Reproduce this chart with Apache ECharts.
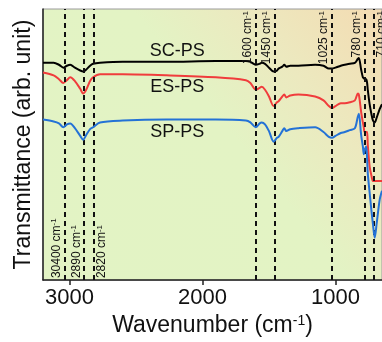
<!DOCTYPE html>
<html>
<head>
<meta charset="utf-8">
<script src="https://cdn.jsdelivr.net/npm/echarts@6/dist/echarts.min.js"></script>
<style>
  html, body { margin: 0; padding: 0; background: #fff; }
  #main { width: 382px; height: 342px; }
</style>
</head>
<body>
<div id="main"></div>
<script>
// wavenumbers (cm-1) shared by the three spectra
const waves = [3200, 3120, 3080, 3047, 3020, 2995, 2960, 2920, 2898, 2875, 2846, 2823, 2771, 2600, 2271, 1900,
  1674, 1640, 1600, 1570, 1555, 1530, 1500, 1465, 1440, 1428, 1400, 1385, 1370, 1340, 1279, 1153, 1090, 1050,
  1026, 1000, 960, 930, 892, 854, 832, 824, 807, 794, 787, 781, 769, 762, 757, 743, 730, 718, 705, 690, 667, 650];

// transmittance, arbitrary units (offset stacked)
const scPS = [226, 226, 224, 221, 223, 224, 221, 218, 217, 219, 223, 225, 226, 227, 227, 228,
  228, 227, 224, 225, 226, 225, 221, 217, 218, 220, 222, 224, 222, 223, 223, 224, 223, 220,
  220, 221, 223, 224, 225, 226, 230, 231, 219, 211, 210, 209, 209, 205, 198, 183, 173, 166, 164, 169, 178, 183];
const esPS = [216, 213, 209, 205, 208, 211, 207, 199, 194, 198, 207, 211, 214, 214, 213, 211,
  208, 205, 198, 200, 201, 198, 191, 181, 185, 186, 191, 193, 190, 192, 193, 191, 187, 181,
  179, 181, 184, 184, 185, 187, 194, 193, 175, 164, 159, 154, 154, 154, 141, 118, 109, 103, 103, 103, 103, 103];
const spPS = [167, 165, 163, 159, 162, 163, 158, 150, 146, 151, 157, 159, 164, 166, 167, 167,
  166, 164, 159, 163, 164, 162, 155, 144, 148, 149, 155, 158, 155, 157, 158, 159, 154, 149,
  148, 150, 153, 154, 156, 158, 170, 173, 151, 139, 131, 135, 139, 126, 111, 91, 73, 58, 44, 59, 84, 93];

const seriesNames = ['SC-PS', 'ES-PS', 'SP-PS'];
const seriesColors = ['#000000', '#f03c3c', '#2472d6'];
const seriesLabelPos = [[2190, 238], [2190, 201], [2190, 154]];

// band markers
const bandWaves = [3040, 2890, 2820, 1600, 1460, 1025, 780, 710];
const bandLabels = ['30400', '2890', '2820', '1600', '1450', '1025', '780', '710'];
const bandPos = ['insideStartTop', 'insideStartTop', 'insideStartBottom', 'insideEndTop',
  'insideEndTop', 'insideEndTop', 'insideEndTop', 'insideEndBottom'];

const xTicks = [3000, 2000, 1000];

const font = 'Liberation Sans, Arial, sans-serif';
const supRich = { s: { fontSize: 8, verticalAlign: 'top', fontFamily: font, color: '#111' } };

const myChart = echarts.init(document.getElementById('main'));

const series = seriesNames.map(function (name, i) {
  const data = waves.map(function (w, j) {
    return [w, [scPS, esPS, spPS][i][j]];
  });
  const s = {
    name: name,
    type: 'line',
    data: data,
    showSymbol: false,
    smooth: 0.3,
    lineStyle: { color: seriesColors[i], width: 2 },
    itemStyle: { color: seriesColors[i] },
    z: 3 + i,
    markPoint: {
      symbol: 'circle',
      symbolSize: 0,
      silent: true,
      label: {
        show: true,
        position: 'inside',
        formatter: name,
        color: '#111',
        fontSize: 18,
        fontFamily: font
      },
      data: [{ coord: seriesLabelPos[i] }]
    }
  };
  if (i === 0) {
    s.markLine = {
      silent: true,
      symbol: ['none', 'none'],
      animation: false,
      lineStyle: { color: '#111', width: 2, type: [5, 4] },
      label: {
        show: true,
        fontSize: 12,
        color: '#111',
        fontFamily: font,
        distance: 2,
        rich: supRich
      },
      data: bandWaves.map(function (w, k) {
        return {
          xAxis: w,
          label: {
            position: bandPos[k],
            formatter: bandLabels[k] + ' cm{s|-1}'
          }
        };
      })
    };
  }
  return s;
});

const option = {
  animation: false,
  grid: {
    left: 43,
    top: 9,
    width: 342,
    bottom: 51,
    show: true,
    borderColor: '#9a9a9a',
    borderWidth: 1,
    backgroundColor: {
      type: 'linear', x: 0, y: 1, x2: 1, y2: 0,
      colorStops: [
        { offset: 0, color: '#e2f3c4' },
        { offset: 0.55, color: '#e3f3c4' },
        { offset: 0.75, color: '#ece9bf' },
        { offset: 1, color: '#f4dbb2' }
      ]
    }
  },
  xAxis: {
    type: 'value',
    inverse: true,
    min: 650,
    max: 3200,
    name: 'Wavenumber (cm{s|-1})',
    nameLocation: 'middle',
    nameGap: 15,
    nameTextStyle: {
      fontSize: 23,
      color: '#111',
      fontFamily: font,
      rich: { s: { fontSize: 14, verticalAlign: 'top', fontFamily: font, color: '#111' } }
    },
    axisLine: { lineStyle: { color: '#222', width: 1.5 } },
    axisTick: { show: true, length: 5, customValues: xTicks, lineStyle: { color: '#222', width: 1.5 } },
    axisLabel: {
      customValues: xTicks,
      formatter: function (v) { return String(v); },
      fontSize: 22,
      color: '#111',
      fontFamily: font,
      margin: 7
    },
    splitLine: { show: false }
  },
  yAxis: {
    type: 'value',
    min: 0,
    max: 282,
    name: 'Transmittance (arb. unit)',
    nameLocation: 'middle',
    nameGap: 8,
    nameTextStyle: { fontSize: 23, color: '#111', fontFamily: font },
    axisLine: { show: true, lineStyle: { color: '#222', width: 1.5 } },
    axisTick: { show: false },
    axisLabel: { show: false },
    splitLine: { show: false }
  },
  series: series
};

myChart.setOption(option);
</script>
</body>
</html>
